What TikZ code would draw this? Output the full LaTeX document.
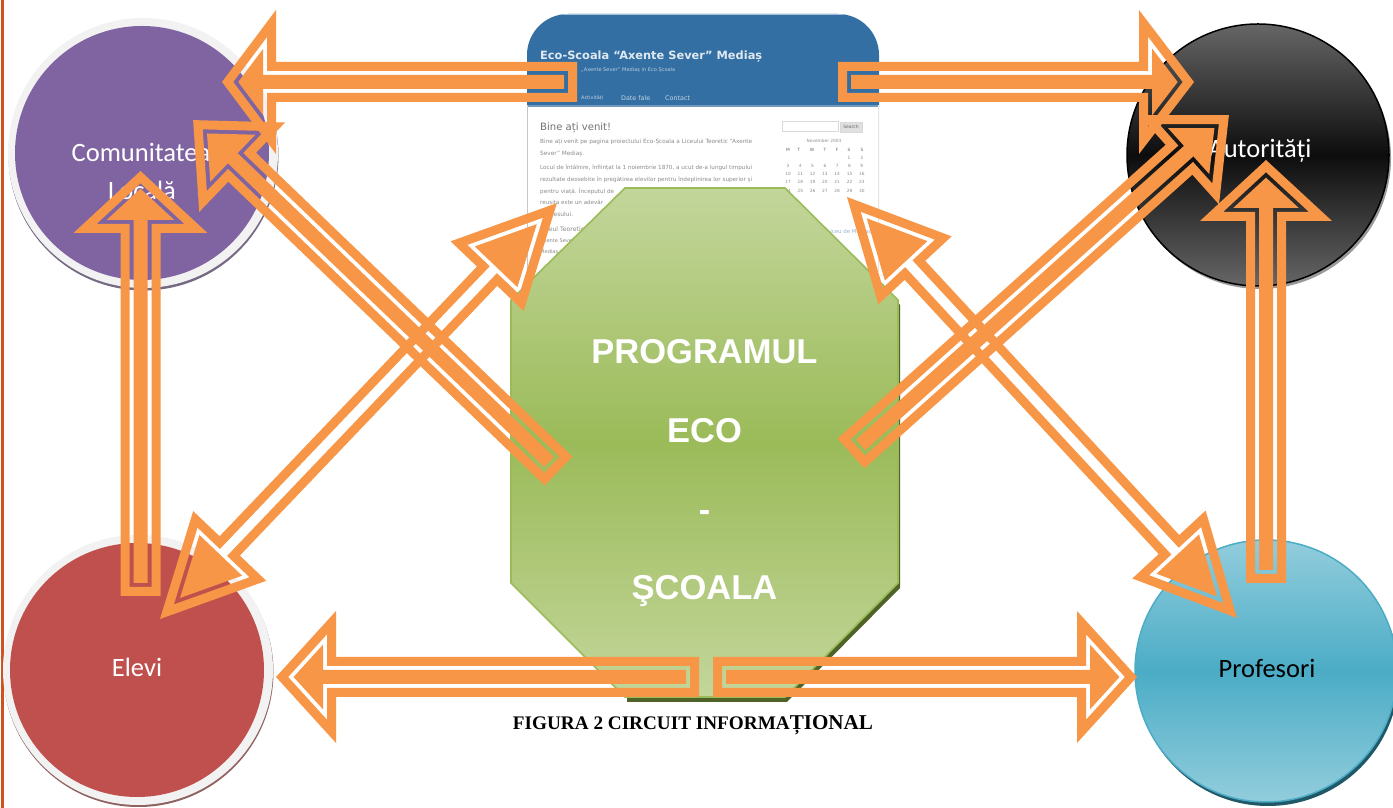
\documentclass[tikz,border=0pt]{standalone}
\usepackage{fontspec}
\usepackage{graphicx}
\setmainfont{Carlito}
\newfontfamily\arialf{Liberation Sans}
\newfontfamily\timesf{Liberation Serif}
\newfontfamily\shotf{DejaVu Sans}
\usetikzlibrary{calc}
\definecolor{arrowor}{HTML}{F79646}
\definecolor{sitebl}{HTML}{336FA3}
\definecolor{rimgr}{HTML}{F2F2F2}
\definecolor{purp}{HTML}{8064A2}
\definecolor{redc}{HTML}{C0504D}
\definecolor{barc}{HTML}{CF5220}
\definecolor{greenl}{HTML}{C3D69B}
\definecolor{greenm}{HTML}{9BBB59}
\definecolor{greend}{HTML}{4F6228}
\definecolor{bluel}{HTML}{92CDDC}
\definecolor{bluem}{HTML}{4BACC6}
\definecolor{blued}{HTML}{205867}
\tikzset{
  x=1pt,y=1pt,
  disc/.style n args={1}{circle,inner sep=0pt,minimum size=#1},
  lbl/.style={inner sep=0pt,font=\fontsize{26.5}{26.5}\selectfont},
  prg/.style={inner sep=0pt,anchor=base,text=white,font=\arialf\bfseries\fontsize{34.5}{34.5}\selectfont},
  cal/.style={inner sep=0pt,text=black!45,font=\shotf\fontsize{4.3}{4.3}\selectfont},
}
% single block arrow: tail, tip, head length, head half width
\newcommand{\blockarrow}[4]{%
  \path let \p1=($(#2)-(#1)$) in \pgfextra{%
    \pgfmathsetmacro\tmpL{veclen(\x1,\y1)}\pgfmathsetmacro\tmpA{atan2(\y1,\x1)}%
    \global\let\ArL\tmpL\global\let\ArA\tmpA};
  \pgfmathsetmacro\ArK{sqrt(1+(#3/#4)*(#3/#4))}%
  \pgfmathsetmacro\ArB{\ArL-#3}%
  \pgfmathsetmacro\Ara{\ArK*9}\pgfmathsetmacro\Arb{\ArK*13}%
  \pgfmathsetmacro\ArHa{(#3-9-\Ara)*#4/#3}%
  \pgfmathsetmacro\ArHb{(#3-13-\Arb)*#4/#3}%
  \begin{scope}[shift={(#1)},rotate=\ArA]
    \fill[arrowor,even odd rule]
      (0,-20)--(\ArB,-20)--(\ArB,-#4)--(\ArL,0)--(\ArB,#4)--(\ArB,20)--(0,20)--cycle
      (9,-11)--(\ArB+9,-11)--(\ArB+9,-\ArHa)--(\ArL-\Ara,0)--(\ArB+9,\ArHa)--(\ArB+9,11)--(9,11)--cycle;
    \fill[arrowor]
      (13,-7)--(\ArB+13,-7)--(\ArB+13,-\ArHb)--(\ArL-\Arb,0)--(\ArB+13,\ArHb)--(\ArB+13,7)--(13,7)--cycle;
  \end{scope}}
% double block arrow: tip, tip, head length, head half width
\newcommand{\dblarrow}[4]{%
  \path let \p1=($(#2)-(#1)$) in \pgfextra{%
    \pgfmathsetmacro\tmpL{veclen(\x1,\y1)}\pgfmathsetmacro\tmpA{atan2(\y1,\x1)}%
    \global\let\ArL\tmpL\global\let\ArA\tmpA};
  \pgfmathsetmacro\ArK{sqrt(1+(#3/#4)*(#3/#4))}%
  \pgfmathsetmacro\ArB{\ArL-#3}%
  \pgfmathsetmacro\Ara{\ArK*9}\pgfmathsetmacro\Arb{\ArK*13}%
  \pgfmathsetmacro\ArHa{(#3-9-\Ara)*#4/#3}%
  \pgfmathsetmacro\ArHb{(#3-13-\Arb)*#4/#3}%
  \begin{scope}[shift={(#1)},rotate=\ArA]
    \fill[arrowor,even odd rule]
      (0,0)--(#3,-#4)--(#3,-14)--(\ArB,-14)--(\ArB,-#4)--(\ArL,0)--(\ArB,#4)--(\ArB,14)--(#3,14)--(#3,#4)--cycle
      (\Ara,0)--(#3-9,-\ArHa)--(#3-9,-5)--(\ArB+9,-5)--(\ArB+9,-\ArHa)--(\ArL-\Ara,0)--(\ArB+9,\ArHa)--(\ArB+9,5)--(#3-9,5)--(#3-9,\ArHa)--cycle;
    \fill[arrowor] (\Arb,0)--(#3-13,-\ArHb)--(#3-13,\ArHb)--cycle;
    \fill[arrowor] (\ArL-\Arb,0)--(\ArB+13,-\ArHb)--(\ArB+13,\ArHb)--cycle;
  \end{scope}}
% line of the web page: name, left x, y, width, colour, text
\newcommand{\shotline}[6]{\node[anchor=west,inner sep=0pt,text=#5,font=\shotf\fontsize{7}{7}\selectfont] (#1) at (#2,808-#3) {\resizebox{#4pt}{!}{#6}};}
\begin{document}
\begin{tikzpicture}
\useasboundingbox (0,0) rectangle (1393,808);
\fill[white] (0,0) rectangle (1393,808);
\fill[barc] (1,0) rectangle (3.5,808);

% ---- web page picture
\begin{scope}
  \fill[white,rounded corners=41pt] (527,808-14) -- (879,808-14) -- (879,808-400) -- (527,808-400) -- cycle;
  \clip[rounded corners=41pt] (527,808-14) -- (879,808-14) -- (879,808-400) -- (527,808-400) -- cycle;
  \fill[sitebl] (520,808-10) rectangle (885,808-105);
  \fill[sitebl!45!white] (520,808-10) rectangle (885,808-15);
  \fill[sitebl!70!white] (520,808-105) rectangle (885,808-107);
  \draw[black!22,line width=1.2pt] (527,808-105) -- (527,808-272);
  \draw[black!10,line width=1.2pt] (879,808-105) -- (879,808-272);
\end{scope}
\shotline{s01}{540}{57}{222}{white!85!sitebl}{\bfseries Eco-Scoala “Axente Sever” Mediaș}
\shotline{s02}{581}{70}{94}{white!65!sitebl}{„Axente Sever” Mediaș in Eco Școala}
\shotline{s03}{581}{98}{22}{white!70!sitebl}{Activități}
\shotline{s04}{621}{98}{29}{white!70!sitebl}{Date fale}
\shotline{s05}{665}{98}{25}{white!70!sitebl}{Contact}
\shotline{s06}{540}{128}{71}{black!55}{Bine ați venit!}
\shotline{s07}{540}{142}{212}{black!45}{Bine ați venit pe pagina proiectului Eco-Școala a Liceului Teoretic “Axente}
\shotline{s08}{540}{154}{44}{black!45}{Sever” Mediaș.}
\shotline{s09}{540}{168}{212}{black!45}{Locul de întâlnire, înființat la 1 noiembrie 1870, a ucut de-a lungul timpului}
\shotline{s10}{540}{180}{212}{black!45}{rezultate deosebite în pregătirea elevilor pentru îndeplinirea lor superior și}
\shotline{s11}{540}{192}{74}{black!45}{pentru viață. Începutul de}
\shotline{s12}{540}{203}{63}{black!45}{reușita este un adevăr}
\shotline{s13}{540}{214}{33}{black!45}{succesului.}
\shotline{s14}{540}{229}{44}{black!45}{Liceul Teoretic}
\shotline{s15}{540}{241}{34}{black!45}{Axente Sever}
\shotline{s16}{540}{252}{18}{black!45}{Mediaș}
\shotline{s17}{827}{232}{44}{sitebl!50!white}{Liceu de Mediaș}
\draw[black!15,line width=1pt,fill=white] (782,808-122) rectangle (838,808-132);
\node[draw=black!15,fill=black!12,inner sep=0pt,minimum width=22pt,minimum height=10pt,text=black!60,font=\shotf\fontsize{4.5}{4.5}\selectfont] (srch) at (851,808-127) {Search};
\node[cal] (calt) at (824,808-141) {November 2003};
\foreach \d/\x in {M/788,T/799,W/812,T/825,F/837,S/849,S/862}{\node[cal,text=black!60] (calh\x) at (\x,808-150) {\d};}
\foreach \d/\x in {1/849,2/862}{\node[cal] (cala\x) at (\x,808-158) {\d};}
\foreach \d [count=\i from 0] in {3,...,9}{\node[cal] (calb\i) at ({788+12.3*\i},808-166) {\d};}
\foreach \d [count=\i from 0] in {10,...,16}{\node[cal] (calc\i) at ({788+12.3*\i},808-174) {\d};}
\foreach \d [count=\i from 0] in {17,...,23}{\node[cal] (cald\i) at ({788+12.3*\i},808-182) {\d};}
\foreach \d [count=\i from 0] in {24,...,30}{\node[cal] (cale\i) at ({788+12.3*\i},808-191) {\d};}

% ---- central octagon
\fill[greend] (627,808-193)--(787,808-193)--(900,808-305)--(900,808-588)--(787,808-702)--(627,808-702)--cycle;
\draw[greenm,line width=1.6pt,top color=greenl,bottom color=greenl,middle color=greenm]
  (625,808-188)--(785,808-188)--(898,808-300)--(898,808-583)--(785,808-697)--(625,808-697)--(511,808-583)--(511,808-300)--cycle;
\node[prg] (t1) at (704.5,808-363.5) {PROGRAMUL};
\node[prg] (t2) at (704.5,808-442.5) {ECO};
\node[prg] (t3) at (704.5,808-521.5) {-};
\node[prg] (t4) at (704.5,808-599.5) {ŞCOALA};

% ---- circles
\node[disc=270pt,fill=purp!55!black!75] (cshadow) at (143.5,808-155.5) {};
\node[disc=270pt,fill=rimgr] (crim) at (143,808-153) {};
\node[disc=254pt,fill=purp] (comm) at (142,808-153) {};
\node[lbl,text=white] (commt) at (141,808-152) {Comunitatea};
\node[lbl,text=white] (commu) at (142,808-190) {Locală};

\node[disc=270pt,fill=redc!55!black!75] (eshadow) at (138.5,808-672) {};
\node[disc=270pt,fill=rimgr] (erim) at (138,808-670) {};
\node[disc=254pt,fill=redc] (elevi) at (137,808-670) {};
\node[lbl,text=white] (elevit) at (137,808-667) {Elevi};

\node[disc=262pt,fill=black!40] (ashadow) at (1260,808-158) {};
\node[disc=262pt,draw=black,line width=1.5pt,top color=black!60,bottom color=black!60,middle color=black!95] (auto) at (1258,808-155) {};
\node[lbl,text=white] (autot) at (1260,808-151) {Autorități};

\node[disc=262pt,fill=blued] (pshadow) at (1268,808-675) {};
\node[disc=262pt,draw=bluem,line width=1.5pt,top color=bluel,bottom color=bluel,middle color=bluem] (prof) at (1266,808-671) {};
\node[lbl,text=black] (proft) at (1267,808-668) {Profesori};

% ---- connector ends
\coordinate (a1) at (577,808-82);   \coordinate (a2) at (222,808-82);
\coordinate (b1) at (838,808-82);   \coordinate (b2) at (1194,808-82);
\coordinate (c1) at (699,808-677);  \coordinate (c2) at (276,808-677);
\coordinate (d1) at (713,808-677);  \coordinate (d2) at (1137,808-677);
\coordinate (e1) at (140.5,808-596);\coordinate (e2) at (140.5,808-171);
\coordinate (f1) at (1266,808-583); \coordinate (f2) at (1266,808-160);
\coordinate (g1) at (558.5,808-471);\coordinate (g2) at (193,808-120);
\coordinate (h1) at (851,808-453.5);\coordinate (h2) at (1229,808-115);
\coordinate (i1) at (160,808-619);  \coordinate (i2) at (557,808-203);
\coordinate (j1) at (847,808-197);  \coordinate (j2) at (1237,808-618);

% ---- arrows
\blockarrow{a1}{a2}{54}{72}
\blockarrow{b1}{b2}{55}{72}
\blockarrow{c1}{c2}{60}{66}
\blockarrow{d1}{d2}{60}{66}
\blockarrow{e1}{e2}{62}{67}
\blockarrow{f1}{f2}{61}{66}
\blockarrow{g1}{g2}{68}{62}
\blockarrow{h1}{h2}{67}{60}
\dblarrow{i1}{i2}{101}{50.5}
\dblarrow{j1}{j2}{100}{50}

% ---- caption
\node[inner sep=0pt,anchor=base,font=\timesf\bfseries\fontsize{19.2}{19.2}\selectfont] (cap) at (693,808-729.5) {FIGURA 2 CIRCUIT INFORMA{\fontsize{21.1}{21.1}\selectfont ȚIONAL}};
\end{tikzpicture}
\end{document}
